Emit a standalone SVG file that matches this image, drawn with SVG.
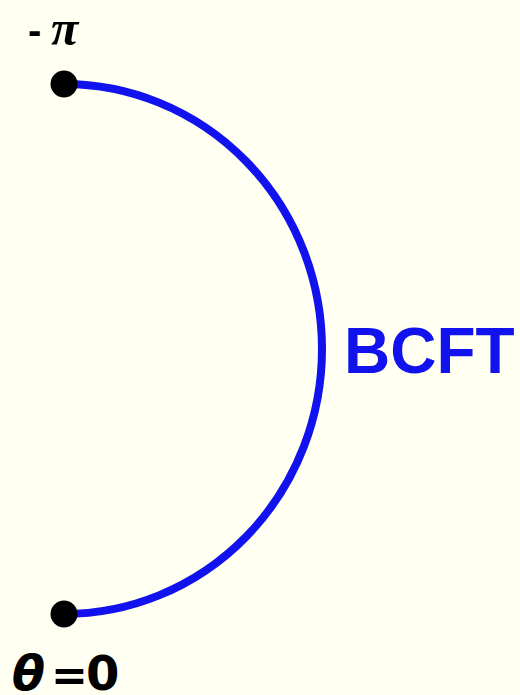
<svg xmlns="http://www.w3.org/2000/svg" width="520" height="695" viewBox="0 0 520 695">
<style>
.arc{fill:none;stroke:#1212ee;stroke-width:8}
.dot{fill:#000}
.lbl{font-family:"DejaVu Sans",sans-serif;font-weight:bold;fill:#000}
.blue{font-family:"Liberation Sans",Arial,sans-serif;font-weight:bold;fill:#1212ee}
</style>
<rect width="520" height="695" fill="#fffff2"/>
<g id="connectors">
<path class="arc" d="M64,84 A258,265 0 0 1 64,614"/>
</g>
<g id="node-top">
<circle class="dot" cx="64" cy="84" r="13.5"/>
<text y="44" class="lbl"><tspan x="28" font-size="40" font-family="Liberation Sans,Arial,sans-serif">-</tspan><tspan x="51" y="45" font-family="Liberation Serif,serif" font-style="italic" font-size="50">π</tspan></text>
</g>
<g id="node-bottom">
<circle class="dot" cx="64" cy="614" r="13.5"/>
<text y="690" class="lbl" font-size="48"><tspan x="12" font-style="italic">θ</tspan><tspan x="51" font-size="44">=</tspan><tspan x="86">0</tspan></text>
</g>
<g id="label-bcft">
<text x="344" y="373" class="blue" font-size="64">BCFT</text>
</g>
</svg>
